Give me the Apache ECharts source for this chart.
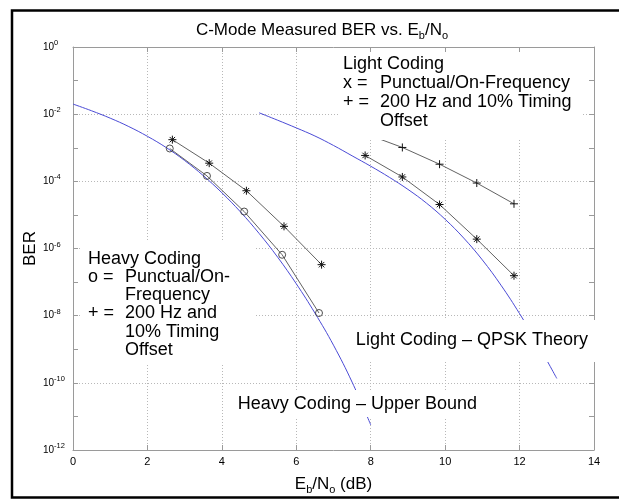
<!DOCTYPE html>
<html><head><meta charset="utf-8">
<script src="https://cdn.jsdelivr.net/npm/echarts@6/dist/echarts.min.js"></script>
<style>html,body{margin:0;padding:0;background:#fff}#c{width:619px;height:500px}</style>
</head><body><div id="c"></div>
<script>
// ---- data (BER values) ----
const heavyPunctualX   = [2.60, 3.60, 4.60, 5.62, 6.61];
const heavyPunctualBER = [9.5e-4, 1.45e-4, 1.26e-5, 6.5e-7, 1.2e-8];
const heavyOffsetX     = [2.67, 3.66, 4.66, 5.67, 6.68];
const heavyOffsetBER   = [1.74e-3, 3.47e-4, 5.25e-5, 4.57e-6, 3.3e-7];
const lightX           = [7.85, 8.85, 9.85, 10.85, 11.85];
const lightStarBER     = [5.9e-4, 1.35e-4, 2.04e-5, 1.9e-6, 1.55e-7];
const lightPlusBER     = [2.63e-3, 1.02e-3, 3.24e-4, 8.9e-5, 2.14e-5];
const upperBoundX      = [0, 0.5, 1, 1.5, 2, 2.5, 3, 3.5, 4, 4.5, 5, 5.5, 6, 6.5, 7, 7.5, 8];
const upperBoundBER    = [2.0e-2, 1.26e-2, 7.6e-3, 4.27e-3, 2.19e-3, 1.02e-3, 4.17e-4, 1.48e-4, 4.57e-5, 1.23e-5, 2.82e-6, 5.5e-7, 8.9e-8, 1.2e-8, 1.32e-9, 1.05e-10, 5.6e-12];
const qpskX            = [5, 5.5, 6, 6.5, 7, 7.5, 8, 8.5, 9, 9.5, 10, 10.5, 11, 11.5, 12, 12.5, 13];
const qpskBER          = [1.1e-2, 6.6e-3, 3.9e-3, 2.24e-3, 1.17e-3, 5.75e-4, 2.82e-4, 1.32e-4, 5.75e-5, 2.24e-5, 7.4e-6, 2.04e-6, 4.57e-7, 8.1e-8, 1.15e-8, 1.35e-9, 1.35e-10];
const xTicks           = [0, 2, 4, 6, 8, 10, 12, 14];
const yTickExponents   = [0, -2, -4, -6, -8, -10, -12];

const FONT = '"Liberation Sans", Arial, Helvetica, sans-serif';
const pairs = (xs, ys) => xs.map((x, i) => [x, Math.log10(ys[i])]);

const STAR = 'path://M5 0V10M0 5H10M1.6 1.6L8.4 8.4M1.6 8.4L8.4 1.6';
const PLUS = 'path://M5 0V10M0 5H10';
const axisGray = '#9a9a9a';
const gridGray = '#b8b8b8';
const lineGray = '#3a3a3a';
const blue = '#4b4bd6';

const chart = echarts.init(document.getElementById('c'), null, {renderer: 'canvas'});

const subRich = { s: { fontSize: 11, lineHeight: 11, verticalAlign: 'bottom', fontFamily: FONT, color: '#000' } };
const txt = (x, y, t, extra) => ({ type: 'text', x: x, y: y, z: 101, silent: true,
  style: Object.assign({ text: t, fontSize: 18, fontFamily: FONT, fill: '#000', verticalAlign: 'middle', textVerticalAlign: 'middle' }, extra || {}) });

const option = {
  animation: false,
  backgroundColor: '#fff',
  grid: { left: 73, right: 25, top: 47, bottom: 44, containLabel: false },
  xAxis: [
    {
      type: 'value', min: xTicks[0], max: xTicks[xTicks.length - 1], interval: 2, position: 'bottom',
      axisLine: { show: true, onZero: false, lineStyle: { color: axisGray, width: 1 } },
      axisTick: { show: true, inside: true, length: 5, lineStyle: { color: axisGray } },
      axisLabel: { color: '#000', fontSize: 11, fontFamily: FONT, margin: 6 },
      splitLine: { show: true, lineStyle: { color: gridGray, type: [1, 2], width: 1 } },
      name: 'E{s|b}/N{s|o} (dB)', nameLocation: 'middle', nameGap: 23, nameMoveOverlap: false,
      nameTextStyle: { color: '#000', fontSize: 17, fontFamily: FONT, lineHeight: 22, rich: subRich }
    },
    {
      type: 'value', min: 0, max: 14, interval: 2, position: 'top',
      axisLine: { show: true, onZero: false, lineStyle: { color: axisGray, width: 1 } },
      axisTick: { show: true, inside: true, length: 5, lineStyle: { color: axisGray } },
      axisLabel: { show: false }, splitLine: { show: false }
    }
  ],
  yAxis: [
    {
      type: 'value', min: -12, max: 0, interval: 1, position: 'left',
      axisLine: { show: true, onZero: false, lineStyle: { color: axisGray, width: 1 } },
      axisTick: { show: true, inside: true, length: 5, lineStyle: { color: axisGray } },
      axisLabel: {
        color: '#000', fontSize: 10, fontFamily: FONT, margin: 30, align: 'left', lineHeight: 16,
        formatter: v => (yTickExponents.indexOf(v) >= 0 ? '10{sup|' + v + '}' : ''),
        rich: { sup: { fontSize: 7.5, lineHeight: 7.5, verticalAlign: 'top', fontFamily: FONT, color: '#000' } }
      },
      splitLine: { show: false },
      name: 'BER', nameLocation: 'middle', nameGap: 34, nameRotate: 90, nameMoveOverlap: false,
      nameTextStyle: { color: '#000', fontSize: 17, fontFamily: FONT }
    },
    {
      type: 'value', min: -12, max: 0, interval: 2, position: 'left',
      axisLine: { show: false }, axisTick: { show: false }, axisLabel: { show: false },
      splitLine: { show: true, lineStyle: { color: gridGray, type: [1, 2], width: 1 } }
    },
    {
      type: 'value', min: -12, max: 0, interval: 1, position: 'right',
      axisLine: { show: true, onZero: false, lineStyle: { color: axisGray, width: 1 } },
      axisTick: { show: true, inside: true, length: 5, lineStyle: { color: axisGray } },
      axisLabel: { show: false }, splitLine: { show: false }
    }
  ],
  series: [
    {
      name: 'Heavy Coding – Upper Bound', type: 'line', data: pairs(upperBoundX, upperBoundBER),
      showSymbol: false, smooth: 0.4, lineStyle: { color: blue, width: 1 }, z: 2, silent: true
    },
    {
      name: 'Light Coding – QPSK Theory', type: 'line', data: pairs(qpskX, qpskBER),
      showSymbol: false, smooth: 0.4, lineStyle: { color: blue, width: 1 }, z: 2, silent: true
    },
    {
      name: 'Heavy o', type: 'line', data: pairs(heavyPunctualX, heavyPunctualBER),
      symbol: 'circle', symbolSize: 7, lineStyle: { color: lineGray, width: 0.8 },
      itemStyle: { color: 'rgba(0,0,0,0)', borderColor: lineGray, borderWidth: 0.9 }, z: 3, silent: true
    },
    {
      name: 'Heavy *', type: 'line', data: pairs(heavyOffsetX, heavyOffsetBER),
      symbol: STAR, symbolSize: 8, lineStyle: { color: lineGray, width: 0.8 },
      itemStyle: { color: 'none', borderColor: '#111', borderWidth: 1 }, z: 3, silent: true
    },
    {
      name: 'Light *', type: 'line', data: pairs(lightX, lightStarBER),
      symbol: STAR, symbolSize: 8, lineStyle: { color: lineGray, width: 0.8 },
      itemStyle: { color: 'none', borderColor: '#111', borderWidth: 1 }, z: 3, silent: true
    },
    {
      name: 'Light +', type: 'line', data: pairs(lightX, lightPlusBER),
      symbol: PLUS, symbolSize: 8, lineStyle: { color: lineGray, width: 0.8 },
      itemStyle: { color: 'none', borderColor: '#111', borderWidth: 1 }, z: 3, silent: true
    }
  ],
  graphic: [
    // outer figure frame
    { type: 'rect', shape: { x: 12, y: 10.5, width: 640, height: 487 }, style: { fill: 'none', stroke: '#000', lineWidth: 2.5 }, z: 200, silent: true },
    // title
    { type: 'text', x: 322, y: 30, z: 150, silent: true,
      style: { text: 'C-Mode Measured BER vs. E{s|b}/N{s|o}', fontSize: 17, fontFamily: FONT, fill: '#000', lineHeight: 22,
               align: 'center', verticalAlign: 'middle', textAlign: 'center', textVerticalAlign: 'middle', rich: subRich } },
    // Light coding legend box
    { type: 'rect', shape: { x: 338, y: 53, width: 244, height: 87 }, style: { fill: '#fff' }, z: 100, silent: true },
    txt(343, 64, 'Light Coding'),
    txt(343, 83, 'x ='), txt(380, 83, 'Punctual/On-Frequency'),
    txt(343, 102, '+ ='), txt(380, 102, '200 Hz and 10% Timing'),
    txt(380, 121, 'Offset'),
    // Heavy coding legend box
    { type: 'rect', shape: { x: 82, y: 242, width: 174, height: 123 }, style: { fill: '#fff' }, z: 100, silent: true },
    txt(88, 259, 'Heavy Coding'),
    txt(88, 277, 'o ='), txt(125, 277, 'Punctual/On-'),
    txt(125, 295, 'Frequency'),
    txt(88, 313, '+ ='), txt(125, 313, '200 Hz and'),
    txt(125, 332, '10% Timing'),
    txt(125, 350, 'Offset'),
    // curve labels
    { type: 'rect', shape: { x: 346, y: 320, width: 250, height: 42 }, style: { fill: '#fff' }, z: 100, silent: true },
    txt(588, 340, 'Light Coding – QPSK Theory', { align: 'right', textAlign: 'right' }),
    { type: 'rect', shape: { x: 232, y: 390, width: 252, height: 27 }, style: { fill: '#fff' }, z: 100, silent: true },
    txt(477, 404, 'Heavy Coding – Upper Bound', { align: 'right', textAlign: 'right' })
  ]
};
chart.setOption(option);
</script>
</body></html>
